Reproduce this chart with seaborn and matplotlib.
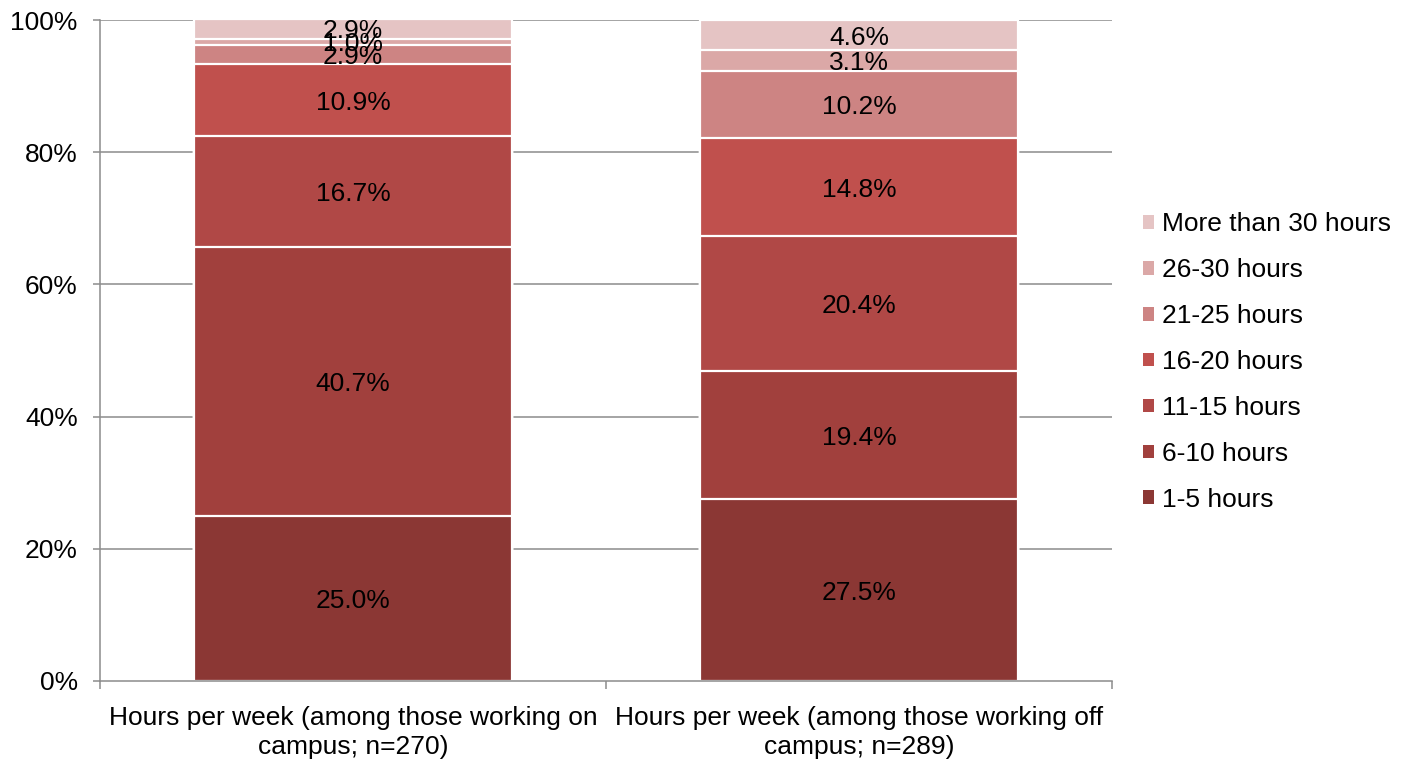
import numpy as np
import pandas as pd
import matplotlib
matplotlib.use("Agg")
import matplotlib.pyplot as plt
import seaborn as sns
from matplotlib.patches import Patch
from matplotlib.ticker import FixedLocator

# Survey groups (x categories)
groups = [
    "Hours per week (among those working on\ncampus; n=270)",
    "Hours per week (among those working off\ncampus; n=289)",
]

# Hour ranges, bottom of the stack first
ranges = ["1-5 hours", "6-10 hours", "11-15 hours", "16-20 hours",
          "21-25 hours", "26-30 hours", "More than 30 hours"]

# Percent shares per group
on_campus = [25.0, 40.7, 16.7, 10.9, 2.9, 1.0, 2.9]
off_campus = [27.5, 19.4, 20.4, 14.8, 10.2, 3.1, 4.6]

colors = ["#8B3734", "#A1403D", "#B04846", "#C0504D",
          "#CD8483", "#DBA8A7", "#E5C4C4"]

sns.set_theme(style="white")
plt.rcParams["font.family"] = ["Liberation Sans", "DejaVu Sans"]
FS = 19

df = pd.DataFrame({
    "group": np.repeat(groups, len(ranges)),
    "range": ranges * len(groups),
    "pct": on_campus + off_campus,
})
df["range"] = pd.Categorical(df["range"], categories=ranges, ordered=True)
df = df.sort_values(["group", "range"])
df["top"] = df.groupby("group")["pct"].cumsum()
df["mid"] = df["top"] - df["pct"] / 2

fig = plt.figure(figsize=(14.11, 7.6), dpi=100)
ax = fig.add_axes([100 / 1411, 1 - 681 / 760, 1012 / 1411, 661 / 760])

grid_color = "#8C8C8C"
for v in [20, 40, 60, 80, 100]:
    ax.axhline(v, color=grid_color, lw=1.1, zorder=0)

# Stacked bars: draw cumulative totals from the top segment downwards
for i in range(len(ranges) - 1, -1, -1):
    sub = df[df["range"] == ranges[i]]
    sns.barplot(data=sub, x="group", y="top", order=groups, color=colors[i],
                saturation=1, width=0.63, edgecolor="white", linewidth=1.6,
                errorbar=None, ax=ax, zorder=2)

for _, r in df.iterrows():
    xi = groups.index(r["group"])
    ax.text(xi, r["mid"], f"{r['pct']:.1f}%", ha="center",
            va="center_baseline", fontsize=FS, color="black", zorder=3)

ax.set_xlim(-0.5, 1.5)
ax.set_ylim(0, 100)
ax.set_yticks([0, 20, 40, 60, 80, 100])
ax.set_yticklabels([f"{v}%" for v in [0, 20, 40, 60, 80, 100]],
                   fontsize=FS, color="black")
ax.set_xticks([0, 1])
ax.set_xticklabels(groups, fontsize=FS, color="black", linespacing=1.25)
ax.xaxis.set_minor_locator(FixedLocator([-0.5, 0.5, 1.5]))
ax.tick_params(axis="x", which="major", length=0, pad=18)
ax.tick_params(axis="x", which="minor", length=6, width=1.1,
               color=grid_color, direction="out", bottom=True)
ax.tick_params(axis="y", which="major", length=5, width=1.1,
               color=grid_color, direction="out", left=True, pad=11)
ax.set_xlabel("")
ax.set_ylabel("")

for side in ["top", "right"]:
    ax.spines[side].set_visible(False)
for side in ["left", "bottom"]:
    ax.spines[side].set_color(grid_color)
    ax.spines[side].set_linewidth(1.1)

handles = [Patch(facecolor=colors[i], edgecolor="none", label=ranges[i])
           for i in range(len(ranges) - 1, -1, -1)]
leg = fig.legend(handles=handles, loc="center left",
                 bbox_to_anchor=(1143 / 1411, 1 - 362 / 760), frameon=False,
                 fontsize=FS, handlelength=0.42, handleheight=0.42,
                 handletextpad=0.3, labelspacing=0.83, borderaxespad=0,
                 borderpad=0)
for t in leg.get_texts():
    t.set_color("black")

fig.savefig("out.png", dpi=100)
